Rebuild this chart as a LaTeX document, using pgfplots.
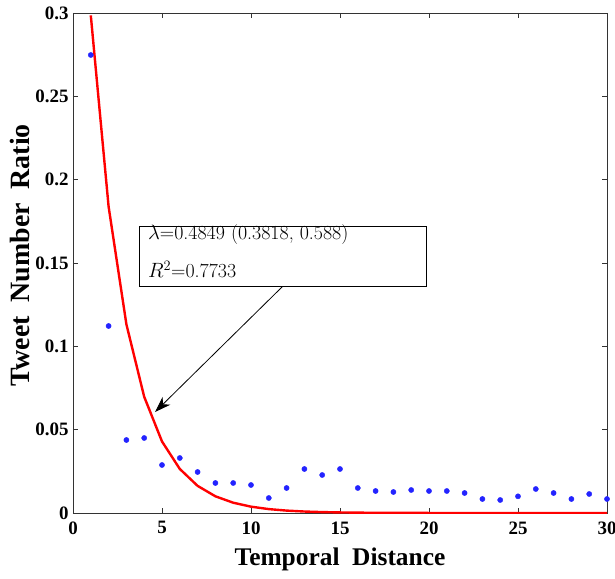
\documentclass[border=0pt]{standalone}
\usepackage{fontspec}
\newfontfamily\timesb{Liberation Serif}
\usepackage{pgfplots}
\pgfplotsset{compat=1.18}
\usetikzlibrary{arrows.meta,calc}
\definecolor{dotblue}{RGB}{35,35,255}
\definecolor{fitred}{RGB}{255,0,0}

% observed ratios
\pgfplotstableread{
x y
1 0.2748
2 0.1122
3 0.0438
4 0.0450
5 0.0288
6 0.0330
7 0.0246
8 0.0180
9 0.0180
10 0.0168
11 0.0090
12 0.0150
13 0.0264
14 0.0228
15 0.0264
16 0.0150
17 0.0132
18 0.0126
19 0.0138
20 0.0132
21 0.0132
22 0.0120
23 0.0084
24 0.0078
25 0.0100
26 0.0144
27 0.0120
28 0.0084
29 0.0114
30 0.0084
}\obs

% fitted exponential, lambda = 0.4849
\pgfplotstableread{
x y
1 0.29858
2 0.18386
3 0.11322
4 0.06972
5 0.04293
6 0.02643
7 0.01628
8 0.01002
9 0.00617
10 0.00380
11 0.00234
12 0.00144
13 0.000887
14 0.000546
15 0.000336
16 0.000207
17 0.000128
18 0.0000785
19 0.0000483
20 0.0000298
21 0.0000183
22 0.0000113
23 0.0000070
24 0.0000043
25 0.0000026
26 0.0000016
27 0.0000010
28 0.0000006
29 0.0000004
30 0.0000002
}\fit

\begin{document}
\begin{tikzpicture}
\begin{axis}[
  name=ax,
  scale only axis,
  width=534bp, height=500bp,
  xmin=0, xmax=30, ymin=0, ymax=0.3,
  xtick={0,5,...,30},
  ytick={0,0.05,0.1,0.15,0.2,0.25,0.3},
  yticklabels={0,0.05,0.1,0.15,0.2,0.25,0.3},
  scaled y ticks=false,
  tick align=inside,
  major tick length=5bp,
  axis line style={line width=0.8bp, black!80},
  every tick/.style={black!80, line width=0.8bp},
  /pgf/number format/assume math mode=true,
  tick label style={font=\fontsize{19}{19}\timesb\bfseries},
  xticklabel style={yshift=-5bp},
  yticklabel style={xshift=-1bp},
  xlabel={Temporal\hspace{0.5em}Distance},
  ylabel={Tweet\hspace{0.5em}Number\hspace{0.5em}Ratio},
  label style={inner sep=0pt},
  xlabel style={font=\fontsize{25.5}{25.5}\timesb\bfseries,
    at={(axis description cs:0.5,-0.07)}, anchor=north},
  ylabel style={font=\fontsize{28}{28}\timesb\bfseries,
    at={(axis description cs:-0.118,0.515)}, anchor=north},
]
\addplot[color=fitred, line width=2.4bp] table[x=x, y=y] {\fit};
\addplot[only marks, mark=*, mark size=2.6bp, color=dotblue] table[x=x, y=y] {\obs};

\draw[black, line width=0.8bp, -{Stealth[length=16bp, width=11bp, inset=5bp]}]
  (axis cs:11.8,0.1362) -- (axis cs:4.61,0.0606);
\draw[black, line width=0.8bp, fill=white]
  (axis cs:3.71,0.1722) rectangle (axis cs:19.83,0.1362);
\node[anchor=base west, inner sep=0pt, font=\fontsize{20}{20}\selectfont]
  at (axis cs:4.21,0.1638) {$\lambda$=0.4849 (0.3818, 0.588)};
\node[anchor=base west, inner sep=0pt, font=\fontsize{20}{20}\selectfont]
  at (axis cs:4.21,0.1410) {$R^2$=0.7733};
\end{axis}
\pgfresetboundingbox
\path[use as bounding box] ($(ax.south west)+(-73bp,-66bp)$) rectangle ($(ax.north east)+(8bp,13bp)$);
\end{tikzpicture}
\end{document}
